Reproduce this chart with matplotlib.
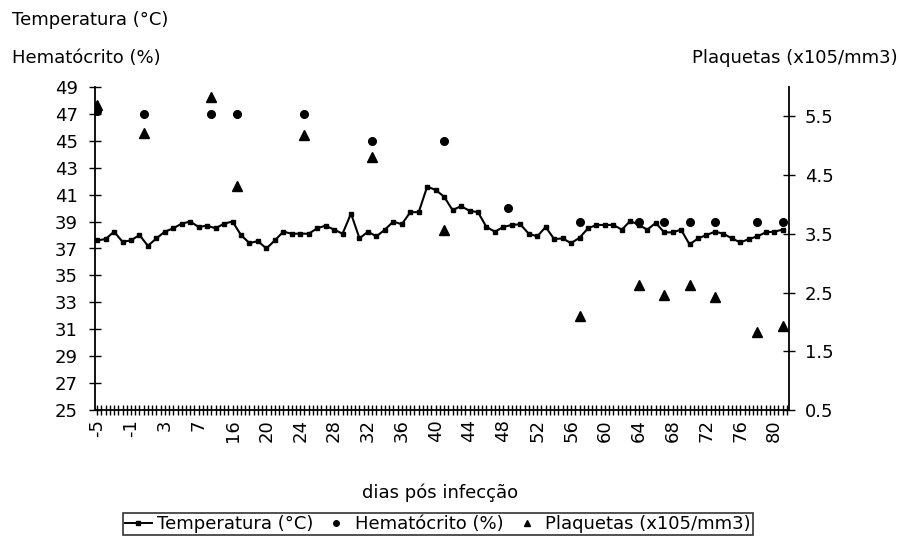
import numpy as np
import matplotlib.pyplot as plt
from matplotlib.lines import Line2D

plt.rcParams['font.family'] = ['DejaVu Sans']

# rótulos do eixo x (um a cada 8 categorias)
dias = [-5, -1, 3, 7, 16, 20, 24, 28, 32, 36, 40, 44, 48, 52, 56, 60, 64, 68, 72, 76, 80]
n_cat = 164

# temperatura (°C), uma leitura a cada 2 categorias
temperatura = [37.6, 37.7, 38.25, 37.5, 37.6, 38.0, 37.2, 37.75, 38.25, 38.5,
               38.85, 39.0, 38.6, 38.7, 38.5, 38.85, 39.0, 38.0, 37.4, 37.55,
               37.0, 37.6, 38.25, 38.1, 38.1, 38.1, 38.5, 38.7, 38.4, 38.1,
               39.6, 37.75, 38.25, 37.9, 38.4, 39.0, 38.8, 39.7, 39.7, 41.6,
               41.35, 40.85, 39.85, 40.15, 39.8, 39.7, 38.6, 38.25, 38.6, 38.75,
               38.8, 38.1, 37.9, 38.6, 37.7, 37.75, 37.4, 37.8, 38.5, 38.75,
               38.75, 38.75, 38.4, 39.05, 38.75, 38.4, 38.9, 38.2, 38.2, 38.4,
               37.3, 37.75, 38.0, 38.25, 38.1, 37.75, 37.45, 37.7, 37.9, 38.2,
               38.25, 38.4]
temp_idx = np.arange(0, 2 * len(temperatura), 2)

# hematócrito (%)
hemat_idx = [0, 11, 27, 33, 49, 65, 82, 97, 114, 128, 134, 140, 146, 156, 162]
hematocrito = [47.2, 47, 47, 47, 47, 45, 45, 40, 39, 39, 39, 39, 39, 39, 39]

# plaquetas (x105/mm3)
plaq_idx = [0, 11, 27, 33, 49, 65, 82, 114, 128, 134, 140, 146, 156, 162]
plaquetas = [5.7, 5.22, 5.83, 4.32, 5.18, 4.8, 3.57, 2.1, 2.63, 2.46, 2.63, 2.43, 1.82, 1.93]

fig = plt.figure(figsize=(8.99, 5.39), dpi=100)
ax = fig.add_axes([95 / 899, 1 - 410 / 539, 694 / 899, 323 / 539])
ax2 = ax.twinx()

ax.plot(temp_idx, temperatura, color='black', lw=1.5, marker='s', ms=2.8)
ax.plot(hemat_idx, hematocrito, ls='none', marker='o', ms=5.5, color='black')
ax2.plot(plaq_idx, plaquetas, ls='none', marker='^', ms=7.5, color='black')

ax.set_xlim(-0.5, n_cat - 0.5)
ax.set_ylim(25, 49)
ax.set_yticks(np.arange(25, 50, 2))
ax2.set_ylim(0.5, 6.0)
ax2.set_yticks([0.5, 1.5, 2.5, 3.5, 4.5, 5.5])
ax2.set_yticklabels(['0.5', '1.5', '2.5', '3.5', '4.5', '5.5'])

ax.set_xticks(np.arange(0, 8 * len(dias), 8))
ax.set_xticklabels([str(d) for d in dias], rotation=90)
ax.set_xticks(np.arange(n_cat), minor=True)

for a in (ax, ax2):
    a.spines['top'].set_visible(False)
    a.tick_params(which='both', direction='inout', colors='black', labelsize=13)
    for s in a.spines.values():
        s.set_linewidth(1.3)
ax.spines['right'].set_visible(False)
ax2.spines['left'].set_visible(False)
ax2.spines['bottom'].set_visible(False)
ax.tick_params(axis='x', which='both', length=7, width=1, pad=3)
ax.tick_params(axis='y', length=9, width=1, pad=8)
ax2.tick_params(axis='y', length=9, width=1, pad=7)

fig.text(440 / 899, 1 - 493 / 539, 'dias pós infecção', fontsize=13, va='center', ha='center')
fig.text(12 / 899, 1 - 20 / 539, 'Temperatura (°C)', fontsize=13, va='center', ha='left')
fig.text(12 / 899, 1 - 58 / 539, 'Hematócrito (%)', fontsize=13, va='center', ha='left')
fig.text(898 / 899, 1 - 58 / 539, 'Plaquetas (x105/mm3)', fontsize=13, va='center', ha='right')

handles = [
    Line2D([], [], color='black', lw=1.4, marker='s', ms=2.8),
    Line2D([], [], color='black', ls='none', marker='o', ms=4),
    Line2D([], [], color='black', ls='none', marker='^', ms=5),
]
labels = ['Temperatura (°C)', 'Hematócrito (%)', 'Plaquetas (x105/mm3)']
leg = fig.legend(handles, labels, loc='center', bbox_to_anchor=(438 / 899, 1 - 524 / 539),
                 ncol=3, fontsize=13, frameon=True, fancybox=False, edgecolor='black',
                 handlelength=1.5, handletextpad=0.3, columnspacing=0.5,
                 borderpad=0.1, borderaxespad=0)
leg.get_frame().set_linewidth(1.2)

fig.savefig('out.png', dpi=100)
